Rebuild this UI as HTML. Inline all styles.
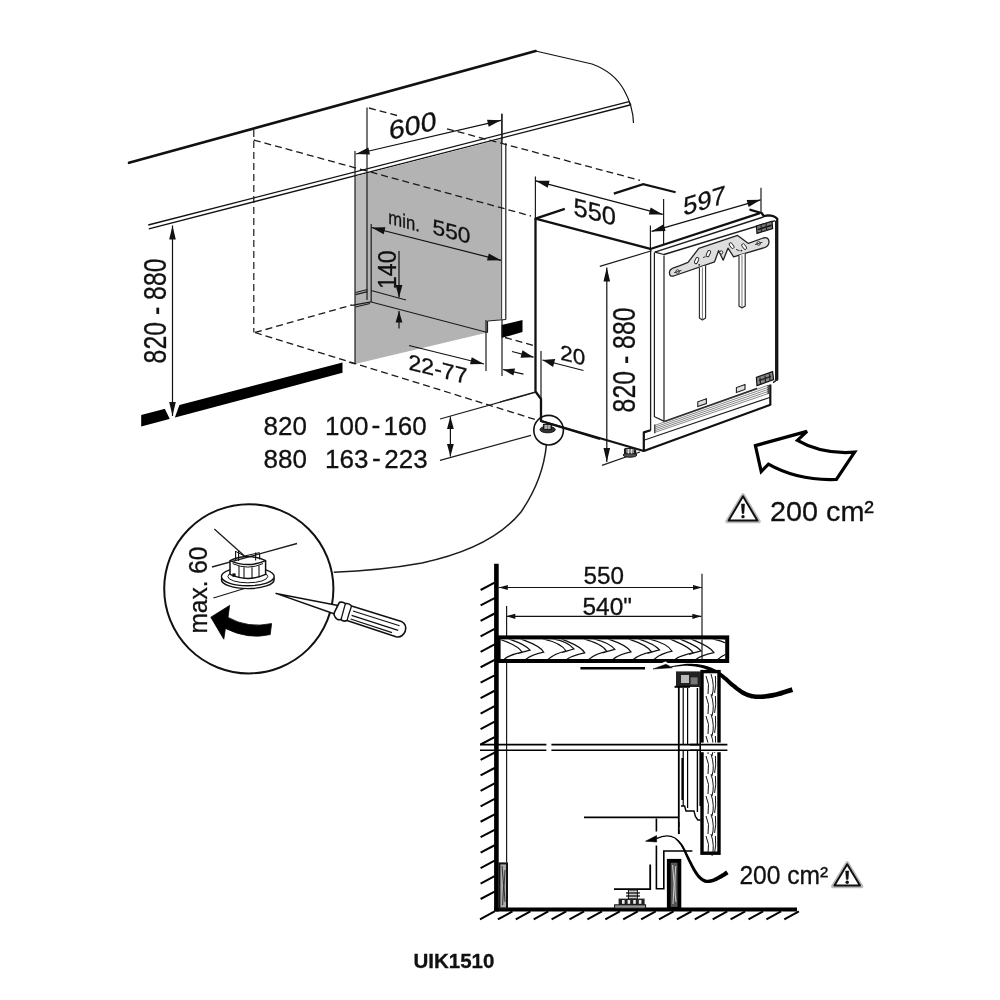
<!DOCTYPE html>
<html><head><meta charset="utf-8"><title>UIK1510</title>
<style>
html,body{margin:0;padding:0;background:#fff;}
body{width:1000px;height:1000px;overflow:hidden;font-family:"Liberation Sans",sans-serif;}
svg{display:block;will-change:transform;}
svg text{font-family:"Liberation Sans",sans-serif;stroke:#111;stroke-width:0.3px;}
</style></head><body>
<svg width="1000" height="1000" viewBox="0 0 1000 1000">
<rect width="1000" height="1000" fill="#fff"/>
<line x1="129" y1="162.8" x2="535.6" y2="51" stroke="#111" stroke-width="2.6" stroke-linecap="round"/>
<path d="M535.6,51 Q562,57 592,64 Q614,72 624,90 Q633,106 633.5,123" stroke="#111" stroke-width="1.2" fill="none" stroke-linejoin="miter" stroke-linecap="butt"/>
<line x1="148.2" y1="225" x2="629" y2="101.6" stroke="#111" stroke-width="1.3" stroke-linecap="butt"/>
<line x1="148.8" y1="228.8" x2="630" y2="105" stroke="#111" stroke-width="1.3" stroke-linecap="butt"/>
<line x1="629" y1="101.6" x2="631" y2="105" stroke="#111" stroke-width="1.2" stroke-linecap="butt"/>
<polygon points="355,176.5 501.5,139 501.5,319.5 487.5,320.8 487.5,332.5 355,364" fill="#b3b3b3" stroke="none" stroke-width="0"/>
<polygon points="355,176.5 367,173.5 367,289.5 355,292.5" fill="#bcbcbc" stroke="none" stroke-width="0"/>
<line x1="355" y1="151" x2="355" y2="364" stroke="#1c1c1c" stroke-width="1.2" stroke-linecap="butt"/>
<line x1="367" y1="107.5" x2="367" y2="300" stroke="#1c1c1c" stroke-width="1.2" stroke-linecap="butt"/>
<line x1="371.2" y1="224" x2="371.2" y2="302" stroke="#1c1c1c" stroke-width="1.2" stroke-linecap="butt"/>
<line x1="501.8" y1="113.8" x2="501.8" y2="319.5" stroke="#1c1c1c" stroke-width="1.2" stroke-linecap="butt"/>
<polygon points="502.3,140 505.6,139.2 505.6,319.3 502.3,319.6" fill="#fff" stroke="none" stroke-width="0"/>
<line x1="505.8" y1="143" x2="505.8" y2="319.5" stroke="#1c1c1c" stroke-width="1.2" stroke-linecap="butt"/>
<line x1="505.8" y1="319.5" x2="487.5" y2="321" stroke="#1c1c1c" stroke-width="1.2" stroke-linecap="butt"/>
<line x1="487.5" y1="321" x2="487.5" y2="332.5" stroke="#1c1c1c" stroke-width="1.2" stroke-linecap="butt"/>
<line x1="371.2" y1="302" x2="487.5" y2="332.5" stroke="#1c1c1c" stroke-width="1.2" stroke-linecap="butt"/>
<line x1="371.2" y1="290.5" x2="406" y2="300" stroke="#1c1c1c" stroke-width="1.2" stroke-linecap="butt"/>
<line x1="355.5" y1="292.5" x2="367.5" y2="289.5" stroke="#1c1c1c" stroke-width="1.2" stroke-linecap="butt"/>
<line x1="355.5" y1="294.6" x2="367.5" y2="291.6" stroke="#1c1c1c" stroke-width="1.2" stroke-linecap="butt"/>
<line x1="352" y1="305.3" x2="371" y2="301.8" stroke="#1c1c1c" stroke-width="1.2" stroke-linecap="butt"/>
<line x1="355.5" y1="307" x2="370" y2="303.5" stroke="#1c1c1c" stroke-width="1.2" stroke-linecap="butt"/>
<line x1="355" y1="364" x2="349" y2="362.2" stroke="#1c1c1c" stroke-width="1.2" stroke-linecap="butt"/>
<line x1="253.8" y1="130" x2="253.8" y2="332.5" stroke="#1a1a1a" stroke-width="1.2" stroke-linecap="butt" stroke-dasharray="7 4"/>
<line x1="253.8" y1="140" x2="531" y2="216" stroke="#1a1a1a" stroke-width="1.3" stroke-linecap="butt" stroke-dasharray="7 4"/>
<line x1="369" y1="108" x2="397" y2="115.5" stroke="#1a1a1a" stroke-width="1.3" stroke-linecap="butt" stroke-dasharray="7 4"/>
<line x1="447" y1="128.8" x2="640" y2="180.3" stroke="#1a1a1a" stroke-width="1.3" stroke-linecap="butt" stroke-dasharray="7 4"/>
<line x1="255" y1="332.5" x2="352" y2="305" stroke="#1a1a1a" stroke-width="1.3" stroke-linecap="butt" stroke-dasharray="7 4"/>
<line x1="255" y1="332.5" x2="537" y2="420" stroke="#1a1a1a" stroke-width="1.3" stroke-linecap="butt" stroke-dasharray="7 4"/>
<line x1="505" y1="337.5" x2="535" y2="346" stroke="#1a1a1a" stroke-width="1.3" stroke-linecap="butt" stroke-dasharray="7 4"/>
<polygon points="141.2,415 342.5,362.5 342.5,372.8 141.2,426.5" fill="#000" stroke="none" stroke-width="0"/>
<polygon points="163.5,406 180.5,402 174.5,418.5 170,419.5" fill="#fff" stroke="none" stroke-width="0"/>
<polygon points="501.5,325 522.5,320 522.5,332 501.5,338" fill="#000" stroke="none" stroke-width="0"/>
<line x1="356" y1="154" x2="501" y2="120.3" stroke="#111" stroke-width="1.2" stroke-linecap="butt"/>
<polygon points="501,120.3 488.67,126.86 487.04,119.85" fill="#111" stroke="none" stroke-width="0"/>
<polygon points="356,154 368.33,147.44 369.96,154.45" fill="#111" stroke="none" stroke-width="0"/>
<line x1="502" y1="113.8" x2="502" y2="143.8" stroke="#1c1c1c" stroke-width="1.2" stroke-linecap="butt"/>
<text transform="translate(389,140) skewY(-12.5) scale(1.0743,1)" font-size="26.5" text-anchor="start" font-weight="normal" fill="#111">600</text>
<line x1="371.5" y1="227.5" x2="501" y2="260.3" stroke="#111" stroke-width="1.2" stroke-linecap="butt"/>
<polygon points="501,260.3 487.03,260.48 488.8,253.5" fill="#111" stroke="none" stroke-width="0"/>
<polygon points="371.5,227.5 385.47,227.32 383.7,234.3" fill="#111" stroke="none" stroke-width="0"/>
<text transform="translate(388.3,223.6) skewY(15) scale(0.8551,1)" font-size="19.5" text-anchor="start" font-weight="normal" fill="#111">min.</text>
<text transform="translate(432.5,233.8) skewY(15) scale(1.0593,1)" font-size="21.5" text-anchor="start" font-weight="normal" fill="#111">550</text>
<text transform="translate(395.8,289) rotate(-90) scale(0.8774,1)" font-size="26.3" text-anchor="start" font-weight="normal" fill="#111">140</text>
<line x1="399" y1="251" x2="399" y2="297.6" stroke="#111" stroke-width="1.2" stroke-linecap="butt"/>
<polygon points="399,297.6 395.6,284.9 402.4,284.9" fill="#111" stroke="none" stroke-width="0"/>
<line x1="399" y1="328.6" x2="399" y2="311" stroke="#111" stroke-width="1.2" stroke-linecap="butt"/>
<polygon points="399,311 402.4,322.5 395.6,322.5" fill="#111" stroke="none" stroke-width="0"/>
<line x1="409" y1="345.5" x2="484" y2="364" stroke="#111" stroke-width="1.2" stroke-linecap="butt"/>
<polygon points="484,364 470.03,364.26 471.76,357.27" fill="#111" stroke="none" stroke-width="0"/>
<line x1="486" y1="320" x2="486" y2="371" stroke="#1c1c1c" stroke-width="1.2" stroke-linecap="butt"/>
<line x1="502" y1="320" x2="502" y2="376" stroke="#1c1c1c" stroke-width="1.2" stroke-linecap="butt"/>
<line x1="523.5" y1="374.2" x2="503" y2="369.5" stroke="#111" stroke-width="1.2" stroke-linecap="butt"/>
<polygon points="503,369.5 515.01,368.56 513.4,375.58" fill="#111" stroke="none" stroke-width="0"/>
<text transform="translate(408.5,369.4) skewY(14) scale(1.0253,1)" font-size="22.5" text-anchor="start" font-weight="normal" fill="#111">22-77</text>
<line x1="512" y1="351.5" x2="533.6" y2="357.2" stroke="#111" stroke-width="1.2" stroke-linecap="butt"/>
<polygon points="533.6,357.2 520.54,357.68 522.48,350.34" fill="#111" stroke="none" stroke-width="0"/>
<line x1="583.5" y1="370.5" x2="542.5" y2="360" stroke="#111" stroke-width="1.2" stroke-linecap="butt"/>
<polygon points="542.5,360 555.17,358.91 553.08,367.05" fill="#111" stroke="none" stroke-width="0"/>
<text transform="translate(560.3,359.4) skewY(14) scale(1.0454,1)" font-size="21.5" text-anchor="start" font-weight="normal" fill="#111">20</text>
<line x1="172.5" y1="225.5" x2="172.5" y2="416" stroke="#111" stroke-width="1.2" stroke-linecap="butt"/>
<polygon points="172.5,416 169.2,402.0 175.8,402.0" fill="#111" stroke="none" stroke-width="0"/>
<polygon points="172.5,225.5 175.8,239.5 169.2,239.5" fill="#111" stroke="none" stroke-width="0"/>
<text transform="translate(166,363.4) rotate(-90) scale(0.8016,1)" font-size="31" text-anchor="start" font-weight="normal" fill="#111">820 - 880</text>
<text transform="translate(263.6,435.4) scale(0.9816,1)" font-size="26.5" text-anchor="start" font-weight="normal" fill="#111">820</text>
<text transform="translate(263.6,467.6) scale(0.9816,1)" font-size="26.5" text-anchor="start" font-weight="normal" fill="#111">880</text>
<text transform="translate(325,435.4) scale(0.9816,1)" font-size="26.5" text-anchor="start" font-weight="normal" fill="#111">100</text>
<text transform="translate(371.6,434.4)" font-size="26.5" text-anchor="start" font-weight="normal" fill="#111">-</text>
<text transform="translate(383.4,435.4) scale(0.9816,1)" font-size="26.5" text-anchor="start" font-weight="normal" fill="#111">160</text>
<text transform="translate(325,467.6) scale(0.9816,1)" font-size="26.5" text-anchor="start" font-weight="normal" fill="#111">163</text>
<text transform="translate(372,466.6)" font-size="26.5" text-anchor="start" font-weight="normal" fill="#111">-</text>
<text transform="translate(384.2,467.6) scale(0.9816,1)" font-size="26.5" text-anchor="start" font-weight="normal" fill="#111">223</text>
<line x1="440" y1="419" x2="535" y2="392.5" stroke="#1c1c1c" stroke-width="1.2" stroke-linecap="butt"/>
<line x1="440" y1="460.4" x2="531" y2="435.4" stroke="#1c1c1c" stroke-width="1.2" stroke-linecap="butt"/>
<line x1="450.4" y1="416.6" x2="450.4" y2="456.6" stroke="#111" stroke-width="1.2" stroke-linecap="butt"/>
<polygon points="450.4,456.6 447.0,444.1 453.8,444.1" fill="#111" stroke="none" stroke-width="0"/>
<polygon points="450.4,416.6 453.8,429.1 447.0,429.1" fill="#111" stroke="none" stroke-width="0"/>
<path d="M613.8,193.6 L643.2,184.2 L675.6,192.2" stroke="#111" stroke-width="2.2" fill="none" stroke-linejoin="miter" stroke-linecap="butt"/>
<line x1="535.4" y1="176.6" x2="535.4" y2="218.6" stroke="#1c1c1c" stroke-width="1.2" stroke-linecap="butt"/>
<line x1="663.6" y1="199" x2="663.6" y2="245" stroke="#1c1c1c" stroke-width="1.2" stroke-linecap="butt"/>
<line x1="650.4" y1="225.6" x2="650.4" y2="249" stroke="#1c1c1c" stroke-width="1.2" stroke-linecap="butt"/>
<line x1="761" y1="187.8" x2="761" y2="213" stroke="#1c1c1c" stroke-width="1.2" stroke-linecap="butt"/>
<line x1="599.8" y1="266.4" x2="651.6" y2="250.8" stroke="#1c1c1c" stroke-width="1.2" stroke-linecap="butt"/>
<line x1="602" y1="465.4" x2="640" y2="452" stroke="#1c1c1c" stroke-width="1.2" stroke-linecap="butt"/>
<line x1="535.6" y1="180.8" x2="662.8" y2="214.4" stroke="#111" stroke-width="1.2" stroke-linecap="butt"/>
<polygon points="662.8,214.4 648.83,214.43 650.67,207.47" fill="#111" stroke="none" stroke-width="0"/>
<polygon points="535.6,180.8 549.57,180.77 547.73,187.73" fill="#111" stroke="none" stroke-width="0"/>
<line x1="651.6" y1="231.4" x2="760.6" y2="199.8" stroke="#111" stroke-width="1.2" stroke-linecap="butt"/>
<polygon points="760.6,199.8 748.64,207.02 746.63,200.1" fill="#111" stroke="none" stroke-width="0"/>
<polygon points="651.6,231.4 663.56,224.18 665.57,231.1" fill="#111" stroke="none" stroke-width="0"/>
<text transform="translate(573.5,214.9) skewY(14.5) scale(1.0189,1)" font-size="25" text-anchor="start" font-weight="normal" fill="#111">550</text>
<text transform="translate(683.3,215.8) skewY(-17) scale(0.9989,1)" font-size="25.5" text-anchor="start" font-weight="normal" fill="#111">597</text>
<line x1="606.8" y1="267.6" x2="606.8" y2="462" stroke="#111" stroke-width="1.2" stroke-linecap="butt"/>
<polygon points="606.8,462 603.5,448.0 610.1,448.0" fill="#111" stroke="none" stroke-width="0"/>
<polygon points="606.8,267.6 610.1,281.6 603.5,281.6" fill="#111" stroke="none" stroke-width="0"/>
<text transform="translate(634.9,412.4) rotate(-90) scale(0.8016,1)" font-size="31" text-anchor="start" font-weight="normal" fill="#111">820 - 880</text>
<path d="M535.5,218.6 L535.5,391.5 L541,399 L541,421 L643.8,451" stroke="#111" stroke-width="2.3" fill="none" stroke-linejoin="round" stroke-linecap="butt"/>
<line x1="541" y1="351" x2="541" y2="399" stroke="#1c1c1c" stroke-width="1.2" stroke-linecap="butt"/>
<path d="M564.8,208.8 L535.5,218.6 L650.4,248.8" stroke="#111" stroke-width="2.3" fill="none" stroke-linejoin="round" stroke-linecap="butt"/>
<line x1="650.6" y1="248.8" x2="650.6" y2="430.5" stroke="#1c1c1c" stroke-width="1.3" stroke-linecap="butt"/>
<line x1="654.4" y1="252.5" x2="654.4" y2="417" stroke="#1c1c1c" stroke-width="1.2" stroke-linecap="butt"/>
<line x1="664" y1="255.4" x2="664" y2="421.4" stroke="#1c1c1c" stroke-width="1.2" stroke-linecap="butt"/>
<line x1="650.4" y1="249" x2="759.2" y2="213.4" stroke="#111" stroke-width="2.3" stroke-linecap="round"/>
<path d="M750.4,209.8 L761.6,213 L763.8,216.2 L768,215.4 Q774.4,215.4 777.2,218.8 L777.2,379.5" stroke="#111" stroke-width="2.3" fill="none" stroke-linejoin="round" stroke-linecap="round"/>
<line x1="654.8" y1="252.2" x2="763.4" y2="217" stroke="#1c1c1c" stroke-width="1.4" stroke-linecap="butt"/>
<line x1="664" y1="254.5" x2="775.4" y2="220.6" stroke="#1c1c1c" stroke-width="1.4" stroke-linecap="butt"/>
<line x1="654.8" y1="252.2" x2="664" y2="254.5" stroke="#1c1c1c" stroke-width="1.2" stroke-linecap="butt"/>
<line x1="775.6" y1="221" x2="775.6" y2="380" stroke="#1c1c1c" stroke-width="1.2" stroke-linecap="butt"/>
<line x1="654.6" y1="416.8" x2="664.4" y2="421.4" stroke="#1c1c1c" stroke-width="1.2" stroke-linecap="butt"/>
<line x1="664.4" y1="421.4" x2="757" y2="388.6" stroke="#1c1c1c" stroke-width="1.6" stroke-linecap="butt"/>
<line x1="773" y1="382.6" x2="777.6" y2="379.4" stroke="#1c1c1c" stroke-width="1.4" stroke-linecap="butt"/>
<path d="M650.6,430.2 L643.8,432.4 L643.8,451 L770.3,404.8 L770.3,384.5" stroke="#111" stroke-width="2.2" fill="none" stroke-linejoin="round" stroke-linecap="butt"/>
<line x1="643.8" y1="440.2" x2="770.3" y2="397.2" stroke="#1c1c1c" stroke-width="1.2" stroke-linecap="butt"/>
<line x1="654.8" y1="424.6" x2="654.8" y2="433.2" stroke="#1c1c1c" stroke-width="1.2" stroke-linecap="butt"/>
<line x1="654.8" y1="425.4" x2="768.2" y2="385.2" stroke="#555" stroke-width="0.7" stroke-linecap="butt"/>
<line x1="654.8" y1="427.15" x2="768.2" y2="387.3" stroke="#555" stroke-width="0.7" stroke-linecap="butt"/>
<line x1="654.8" y1="428.9" x2="768.2" y2="389.4" stroke="#555" stroke-width="0.7" stroke-linecap="butt"/>
<line x1="654.8" y1="430.65" x2="768.2" y2="391.5" stroke="#555" stroke-width="0.7" stroke-linecap="butt"/>
<line x1="654.8" y1="432.4" x2="768.2" y2="393.59999999999997" stroke="#555" stroke-width="0.7" stroke-linecap="butt"/>
<line x1="768.2" y1="385" x2="768.2" y2="394" stroke="#1c1c1c" stroke-width="1.2" stroke-linecap="butt"/>
<path d="M697.8,406.6 L697.8,401.8 L706.4,398.8 L706.4,403.6 Z" stroke="#1c1c1c" stroke-width="1.1" fill="#ddd" stroke-linejoin="miter" stroke-linecap="butt"/>
<path d="M736.4,392.4 L736.4,387.6 L745,384.6 L745,389.4 Z" stroke="#1c1c1c" stroke-width="1.1" fill="#ddd" stroke-linejoin="miter" stroke-linecap="butt"/>
<path d="M756.4,377.4 L772.6,371.6 L773.6,379.6 L757,385.6 Z" stroke="#111" stroke-width="1.2" fill="#888" stroke-linejoin="miter" stroke-linecap="butt"/>
<line x1="759" y1="380.6" x2="771" y2="376.4" stroke="#222" stroke-width="1.4" stroke-linecap="butt"/>
<line x1="760" y1="377.5" x2="760.5" y2="384" stroke="#222" stroke-width="1.2" stroke-linecap="butt"/>
<line x1="765" y1="375.5" x2="765.5" y2="382" stroke="#222" stroke-width="1.2" stroke-linecap="butt"/>
<line x1="769.5" y1="373.8" x2="770" y2="380.5" stroke="#222" stroke-width="1.2" stroke-linecap="butt"/>
<path d="M756.4,226 L772,221.2 L772.6,228.6 L757,233.4 Z" stroke="#111" stroke-width="1.2" fill="#777" stroke-linejoin="miter" stroke-linecap="butt"/>
<line x1="758" y1="229.6" x2="771.6" y2="225.2" stroke="#111" stroke-width="1.5" stroke-linecap="butt"/>
<line x1="761" y1="225" x2="761.6" y2="232" stroke="#222" stroke-width="1.2" stroke-linecap="butt"/>
<line x1="766" y1="223.4" x2="766.6" y2="230.6" stroke="#222" stroke-width="1.2" stroke-linecap="butt"/>
<path d="M624.6,448.6 L624.6,454 M635.6,449.8 L635.6,455" stroke="#1c1c1c" stroke-width="1.2" fill="none" stroke-linejoin="miter" stroke-linecap="butt"/>
<ellipse cx="630" cy="455" rx="6.8" ry="2.2" fill="#555" stroke="#111" stroke-width="1"/>
<rect x="625.6" y="448.4" width="9" height="5.4" fill="#888" stroke="#111" stroke-width="1"/>
<line x1="628.4" y1="449" x2="628.4" y2="453.6" stroke="#eee" stroke-width="0.9" stroke-linecap="butt"/>
<line x1="631.6" y1="449" x2="631.6" y2="453.6" stroke="#eee" stroke-width="0.9" stroke-linecap="butt"/>
<path d="M673.6,267.8 L680,265.6 L688,262.4 L698.8,248.4 L737.6,235.4 L748.4,243.4 L763.2,238 Q768.4,236.6 769,241.4 Q769,246 764.4,247.6 L733.6,256.8 L728,248.2 L723.2,260.2 L718.6,250.6 L714.6,261.8 L673.6,276 Q669.6,277 669.4,272.6 Q669.6,269.2 673.6,267.8 Z" stroke="#222" stroke-width="1.3" fill="#dedede" stroke-linejoin="round" stroke-linecap="butt"/>
<path d="M699.4,267.4 L699.4,318 L702.4,320 L705.6,318 L705.6,265.4" stroke="#222" stroke-width="1.1" fill="#fff" stroke-linejoin="round" stroke-linecap="butt"/>
<line x1="702.4" y1="267.4" x2="702.4" y2="319.6" stroke="#555" stroke-width="0.8" stroke-linecap="butt"/>
<path d="M739,255.2 L739,306 L742,308 L745.2,306 L745.2,253.2" stroke="#222" stroke-width="1.1" fill="#fff" stroke-linejoin="round" stroke-linecap="butt"/>
<line x1="742" y1="255.2" x2="742" y2="307.6" stroke="#555" stroke-width="0.8" stroke-linecap="butt"/>
<rect x="695.1" y="257.40000000000003" width="3.0" height="6.4" rx="1.5" fill="#fff" stroke="#222" stroke-width="0.9" transform="rotate(25 696.6 260.6)"/>
<rect x="706.9" y="250.4" width="3.0" height="6.4" rx="1.5" fill="#fff" stroke="#222" stroke-width="0.9" transform="rotate(25 708.4 253.6)"/>
<rect x="730.1" y="242.4" width="3.0" height="6.4" rx="1.5" fill="#fff" stroke="#222" stroke-width="0.9" transform="rotate(-35 731.6 245.6)"/>
<rect x="742.7" y="243.4" width="3.0" height="6.4" rx="1.5" fill="#fff" stroke="#222" stroke-width="0.9" transform="rotate(-35 744.2 246.6)"/>
<circle cx="677.6" cy="271.6" r="1.8" fill="#fff" stroke="#222" stroke-width="0.9"/>
<circle cx="758.6" cy="243.4" r="1.8" fill="#fff" stroke="#222" stroke-width="0.9"/>
<line x1="674" y1="272.8" x2="681.4" y2="270.4" stroke="#222" stroke-width="0.9" stroke-linecap="butt"/>
<line x1="755" y1="244.6" x2="762.4" y2="242.2" stroke="#222" stroke-width="0.9" stroke-linecap="butt"/>
<line x1="703" y1="257.6" x2="705.6" y2="256.6" stroke="#222" stroke-width="0.9" stroke-linecap="butt"/>
<line x1="736" y1="249.4" x2="739.6" y2="250.8" stroke="#222" stroke-width="0.9" stroke-linecap="butt"/>
<circle cx="721.2" cy="252.4" r="1.6" fill="#eee" stroke="#222" stroke-width="0.9"/>
<circle cx="699.2" cy="264.8" r="0.9" fill="#222"/>
<circle cx="741.4" cy="250.6" r="0.9" fill="#222"/>
<line x1="500" y1="402" x2="535" y2="392" stroke="#1c1c1c" stroke-width="1.2" stroke-linecap="butt"/>
<circle cx="548.6" cy="430.2" r="14.8" fill="none" stroke="#111" stroke-width="1.6"/>
<ellipse cx="547.6" cy="429.6" rx="7.6" ry="3.2" fill="#333" stroke="#111" stroke-width="1"/>
<rect x="543.4" y="424.4" width="8" height="5" fill="#777" stroke="#111" stroke-width="1"/>
<line x1="546" y1="425" x2="546" y2="429" stroke="#eee" stroke-width="0.9" stroke-linecap="butt"/>
<line x1="549" y1="425" x2="549" y2="429" stroke="#eee" stroke-width="0.9" stroke-linecap="butt"/>
<path d="M546.4,445 Q543,480 521,512 Q492,548 422,563 Q380,570.6 333.8,572.2" stroke="#1c1c1c" stroke-width="1.5" fill="none" stroke-linejoin="miter" stroke-linecap="butt"/>
<path d="M541,421 L600,439" stroke="#111" stroke-width="2.3" fill="none" stroke-linejoin="miter" stroke-linecap="butt"/>
<path d="M755.4,445.6 L807,431.4 L797.4,440.4 Q822,454.6 854.6,452.2 L836.4,479.4 Q798,481 768.4,464.2 L761.2,471.6 Z" stroke="#000" stroke-width="3.2" fill="#fff" stroke-linejoin="miter" stroke-linecap="butt"/>
<path d="M743,495 L759,521.4 L727,521.4 Z" stroke="#bbb" stroke-width="3.6" fill="#fff" stroke-linejoin="round" stroke-linecap="butt"/>
<path d="M743,496.2 L757.4,520.6 L728.6,520.6 Z" stroke="#111" stroke-width="2" fill="#fff" stroke-linejoin="round" stroke-linecap="butt"/>
<path d="M741.4,503.976 L744.6,503.976 L743.9,513.48 L742.1,513.48 Z" stroke="#111" stroke-width="0.5" fill="#111" stroke-linejoin="miter" stroke-linecap="butt"/>
<circle cx="743" cy="516.648" r="1.7" fill="#111"/>
<text transform="translate(770,521) scale(1.0102,1)" font-size="28.5" text-anchor="start" font-weight="normal" fill="#111">200 cm&#178;</text>
<circle cx="248.8" cy="588.8" r="84.6" fill="#fff" stroke="#111" stroke-width="2"/>
<text transform="translate(206.5,633.5) rotate(-90) scale(0.9783,1)" font-size="25" text-anchor="start" font-weight="normal" fill="#111">max. 60</text>
<line x1="214.3" y1="529" x2="244.5" y2="556" stroke="#1c1c1c" stroke-width="1.3" stroke-linecap="butt"/>
<line x1="212" y1="567" x2="297" y2="543.5" stroke="#1c1c1c" stroke-width="1.3" stroke-linecap="butt"/>
<line x1="213.4" y1="598" x2="244.5" y2="588.5" stroke="#1c1c1c" stroke-width="1.3" stroke-linecap="butt"/>
<ellipse cx="247.8" cy="579.4" rx="26.4" ry="9.2" fill="#fff" stroke="#111" stroke-width="1.4"/>
<ellipse cx="247.8" cy="576.6" rx="26.4" ry="9.2" fill="#fff" stroke="#111" stroke-width="1.4"/>
<ellipse cx="247.8" cy="576.4" rx="20" ry="6.4" fill="#fff" stroke="#111" stroke-width="1"/>
<path d="M230,560.6 L230,574.4 Q247.8,582.4 265.6,574.4 L265.6,560.6 Q247.8,568.6 230,560.6 Z" stroke="#111" stroke-width="1.5" fill="#fff" stroke-linejoin="round" stroke-linecap="butt"/>
<path d="M230,560.6 Q247.8,552.6 265.6,560.6" stroke="#111" stroke-width="1.5" fill="none" stroke-linejoin="miter" stroke-linecap="butt"/>
<path d="M232.6,563.6 Q247.8,570.6 263,563.6" stroke="#111" stroke-width="1" fill="none" stroke-linejoin="miter" stroke-linecap="butt"/>
<line x1="239" y1="566" x2="239" y2="578" stroke="#111" stroke-width="1.1" stroke-linecap="butt"/>
<line x1="244" y1="567.2" x2="244" y2="579" stroke="#111" stroke-width="1.1" stroke-linecap="butt"/>
<line x1="252" y1="567.2" x2="252" y2="579" stroke="#111" stroke-width="1.1" stroke-linecap="butt"/>
<line x1="259" y1="565.6" x2="259" y2="577.6" stroke="#111" stroke-width="1.1" stroke-linecap="butt"/>
<path d="M235.6,551 L235.6,560.4 M238.6,550.6 L238.6,561 M255.6,552.6 L255.6,560.6 M259.6,553.4 L259.6,559.6" stroke="#111" stroke-width="1.1" fill="none" stroke-linejoin="miter" stroke-linecap="butt"/>
<path d="M235.6,551.4 L244.5,556 L259.6,552.6" stroke="#111" stroke-width="1" fill="none" stroke-linejoin="miter" stroke-linecap="butt"/>
<rect x="232.4" y="573.4" width="3.2" height="3.4" fill="#111"/>
<path d="M271.6,623.6 Q248,628.6 228,617.4 L229.6,605.4 L210.8,617.2 L223.8,639.2 L225.4,628.4 Q248,639.8 270.2,634.6 Z" stroke="#000" stroke-width="0.8" fill="#000" stroke-linejoin="round" stroke-linecap="butt"/>
<path d="M276,593.4 L338,605.4 L334.6,614 Z" stroke="#111" stroke-width="1.5" fill="#fff" stroke-linejoin="round" stroke-linecap="butt"/>
<path d="M339.4,602.4 Q343,601.6 345.4,603.6 Q349,602.8 351.6,606 L401.4,621.4 Q407.4,624.8 405.2,631.4 Q402.2,638 396,636.8 L347,620.6 Q343.4,622 341,619.6 Q337,620.4 335,616.8 Q333.4,615 334.4,612.4 Z" stroke="#111" stroke-width="1.6" fill="#fff" stroke-linejoin="round" stroke-linecap="butt"/>
<path d="M345.4,603.6 Q343.4,611 341,619.6" stroke="#111" stroke-width="1.3" fill="none" stroke-linejoin="miter" stroke-linecap="butt"/>
<path d="M351.6,606 Q349,613 347,620.6" stroke="#111" stroke-width="1.3" fill="none" stroke-linejoin="miter" stroke-linecap="butt"/>
<line x1="353" y1="611" x2="399.6" y2="625.8" stroke="#111" stroke-width="1.2" stroke-linecap="butt"/>
<line x1="351.6" y1="615.4" x2="398.2" y2="630.4" stroke="#111" stroke-width="1.2" stroke-linecap="butt"/>
<line x1="350.6" y1="619" x2="392" y2="632.6" stroke="#111" stroke-width="1.2" stroke-linecap="butt"/>
<line x1="496.4" y1="563.8" x2="496.4" y2="911.4" stroke="#000" stroke-width="4.6" stroke-linecap="butt"/>
<line x1="480.6" y1="590.0" x2="494.6" y2="582.6" stroke="#000" stroke-width="2" stroke-linecap="butt"/>
<line x1="480.6" y1="605.45" x2="494.6" y2="598.0500000000001" stroke="#000" stroke-width="2" stroke-linecap="butt"/>
<line x1="480.6" y1="620.9000000000001" x2="494.6" y2="613.5000000000001" stroke="#000" stroke-width="2" stroke-linecap="butt"/>
<line x1="480.6" y1="636.3500000000001" x2="494.6" y2="628.9500000000002" stroke="#000" stroke-width="2" stroke-linecap="butt"/>
<line x1="480.6" y1="651.8000000000002" x2="494.6" y2="644.4000000000002" stroke="#000" stroke-width="2" stroke-linecap="butt"/>
<line x1="480.6" y1="667.2500000000002" x2="494.6" y2="659.8500000000003" stroke="#000" stroke-width="2" stroke-linecap="butt"/>
<line x1="480.6" y1="682.7000000000003" x2="494.6" y2="675.3000000000003" stroke="#000" stroke-width="2" stroke-linecap="butt"/>
<line x1="480.6" y1="698.1500000000003" x2="494.6" y2="690.7500000000003" stroke="#000" stroke-width="2" stroke-linecap="butt"/>
<line x1="480.6" y1="713.6000000000004" x2="494.6" y2="706.2000000000004" stroke="#000" stroke-width="2" stroke-linecap="butt"/>
<line x1="480.6" y1="729.0500000000004" x2="494.6" y2="721.6500000000004" stroke="#000" stroke-width="2" stroke-linecap="butt"/>
<line x1="480.6" y1="744.5000000000005" x2="494.6" y2="737.1000000000005" stroke="#000" stroke-width="2" stroke-linecap="butt"/>
<line x1="480.6" y1="759.9500000000005" x2="494.6" y2="752.5500000000005" stroke="#000" stroke-width="2" stroke-linecap="butt"/>
<line x1="480.6" y1="775.4000000000005" x2="494.6" y2="768.0000000000006" stroke="#000" stroke-width="2" stroke-linecap="butt"/>
<line x1="480.6" y1="790.8500000000006" x2="494.6" y2="783.4500000000006" stroke="#000" stroke-width="2" stroke-linecap="butt"/>
<line x1="480.6" y1="806.3000000000006" x2="494.6" y2="798.9000000000007" stroke="#000" stroke-width="2" stroke-linecap="butt"/>
<line x1="480.6" y1="821.7500000000007" x2="494.6" y2="814.3500000000007" stroke="#000" stroke-width="2" stroke-linecap="butt"/>
<line x1="480.6" y1="837.2000000000007" x2="494.6" y2="829.8000000000008" stroke="#000" stroke-width="2" stroke-linecap="butt"/>
<line x1="480.6" y1="852.6500000000008" x2="494.6" y2="845.2500000000008" stroke="#000" stroke-width="2" stroke-linecap="butt"/>
<line x1="480.6" y1="868.1000000000008" x2="494.6" y2="860.7000000000008" stroke="#000" stroke-width="2" stroke-linecap="butt"/>
<line x1="480.6" y1="883.5500000000009" x2="494.6" y2="876.1500000000009" stroke="#000" stroke-width="2" stroke-linecap="butt"/>
<line x1="480.6" y1="899.0000000000009" x2="494.6" y2="891.6000000000009" stroke="#000" stroke-width="2" stroke-linecap="butt"/>
<line x1="494.2" y1="909.6" x2="797" y2="909.6" stroke="#000" stroke-width="4" stroke-linecap="butt"/>
<line x1="480" y1="919.4" x2="494.6" y2="911.4" stroke="#000" stroke-width="2" stroke-linecap="butt"/>
<line x1="497.9" y1="919.4" x2="512.5" y2="911.4" stroke="#000" stroke-width="2" stroke-linecap="butt"/>
<line x1="515.8" y1="919.4" x2="530.4" y2="911.4" stroke="#000" stroke-width="2" stroke-linecap="butt"/>
<line x1="533.6999999999999" y1="919.4" x2="548.3" y2="911.4" stroke="#000" stroke-width="2" stroke-linecap="butt"/>
<line x1="551.5999999999999" y1="919.4" x2="566.1999999999999" y2="911.4" stroke="#000" stroke-width="2" stroke-linecap="butt"/>
<line x1="569.4999999999999" y1="919.4" x2="584.0999999999999" y2="911.4" stroke="#000" stroke-width="2" stroke-linecap="butt"/>
<line x1="587.3999999999999" y1="919.4" x2="601.9999999999999" y2="911.4" stroke="#000" stroke-width="2" stroke-linecap="butt"/>
<line x1="605.2999999999998" y1="919.4" x2="619.8999999999999" y2="911.4" stroke="#000" stroke-width="2" stroke-linecap="butt"/>
<line x1="623.1999999999998" y1="919.4" x2="637.7999999999998" y2="911.4" stroke="#000" stroke-width="2" stroke-linecap="butt"/>
<line x1="641.0999999999998" y1="919.4" x2="655.6999999999998" y2="911.4" stroke="#000" stroke-width="2" stroke-linecap="butt"/>
<line x1="658.9999999999998" y1="919.4" x2="673.5999999999998" y2="911.4" stroke="#000" stroke-width="2" stroke-linecap="butt"/>
<line x1="676.8999999999997" y1="919.4" x2="691.4999999999998" y2="911.4" stroke="#000" stroke-width="2" stroke-linecap="butt"/>
<line x1="694.7999999999997" y1="919.4" x2="709.3999999999997" y2="911.4" stroke="#000" stroke-width="2" stroke-linecap="butt"/>
<line x1="712.6999999999997" y1="919.4" x2="727.2999999999997" y2="911.4" stroke="#000" stroke-width="2" stroke-linecap="butt"/>
<line x1="730.5999999999997" y1="919.4" x2="745.1999999999997" y2="911.4" stroke="#000" stroke-width="2" stroke-linecap="butt"/>
<line x1="748.4999999999997" y1="919.4" x2="763.0999999999997" y2="911.4" stroke="#000" stroke-width="2" stroke-linecap="butt"/>
<line x1="766.3999999999996" y1="919.4" x2="780.9999999999997" y2="911.4" stroke="#000" stroke-width="2" stroke-linecap="butt"/>
<line x1="784.2999999999996" y1="919.4" x2="798.8999999999996" y2="911.4" stroke="#000" stroke-width="2" stroke-linecap="butt"/>
<line x1="498.8" y1="587.5" x2="702" y2="587.5" stroke="#111" stroke-width="1.2" stroke-linecap="butt"/>
<polygon points="702,587.5 693.0,590.1 693.0,584.9" fill="#111" stroke="none" stroke-width="0"/>
<polygon points="498.8,587.5 507.8,584.9 507.8,590.1" fill="#111" stroke="none" stroke-width="0"/>
<line x1="506.3" y1="616.3" x2="701.4" y2="616.3" stroke="#111" stroke-width="1.2" stroke-linecap="butt"/>
<polygon points="701.4,616.3 692.4,618.9 692.4,613.7" fill="#111" stroke="none" stroke-width="0"/>
<polygon points="506.3,616.3 515.3,613.7 515.3,618.9" fill="#111" stroke="none" stroke-width="0"/>
<line x1="702" y1="573.8" x2="702" y2="659" stroke="#1c1c1c" stroke-width="1.2" stroke-linecap="butt"/>
<line x1="506.6" y1="606" x2="506.6" y2="862.6" stroke="#1c1c1c" stroke-width="1.2" stroke-linecap="butt"/>
<text transform="translate(583.5,583.8) scale(0.9908,1)" font-size="24.5" text-anchor="start" font-weight="normal" fill="#111">550</text>
<text transform="translate(582.5,614.6) scale(0.9985,1)" font-size="24.5" text-anchor="start" font-weight="normal" fill="#111">540"</text>
<rect x="498.6" y="637.4" width="228.6" height="23.6" fill="#fff" stroke="#000" stroke-width="4"/>
<clipPath id="ctc"><rect x="500.6" y="639.4" width="224.6" height="19.6"/></clipPath>
<g clip-path="url(#ctc)">
<path d="M499.0,639 C506.0,641.6 518.0,645.1 522.0,652.1 C515.0,653.6 508.0,656.0 504.0,659.4 M509.0,639 C515.0,641.1 525.0,644.1 530.0,650.1 C525.0,651.6 521.0,652.5 518.0,653.5 M520.7,639 C527.7,641.7 539.7,645.2 543.7,652.2 C536.7,653.7 529.7,656.0 525.7,659.4 M542.9,639 C549.9,640.5 561.9,644.0 565.9,651.0 C558.9,652.5 551.9,656.0 547.9,659.4 M552.9,639 C558.9,640.0 568.9,643.0 573.9,649.0 C568.9,650.5 564.9,651.4 561.9,652.4 M561.7,639 C568.7,642.3 580.7,645.8 584.7,652.8 C577.7,654.3 570.7,656.0 566.7,659.4 M583.8,639 C590.8,640.9 602.8,644.4 606.8,651.4 C599.8,652.9 592.8,656.0 588.8,659.4 M593.8,639 C599.8,640.4 609.8,643.4 614.8,649.4 C609.8,650.9 605.8,651.8 602.8,652.8 M608.0,639 C615.0,641.4 627.0,644.9 631.0,651.9 C624.0,653.4 617.0,656.0 613.0,659.4 M628.5,639 C635.5,641.4 647.5,644.9 651.5,651.9 C644.5,653.4 637.5,656.0 633.5,659.4 M638.5,639 C644.5,640.9 654.5,643.9 659.5,649.9 C654.5,651.4 650.5,652.3 647.5,653.3 M649.0,639 C656.0,640.7 668.0,644.2 672.0,651.2 C665.0,652.7 658.0,656.0 654.0,659.4 M670.1,639 C677.1,642.4 689.1,645.9 693.1,652.9 C686.1,654.4 679.1,656.0 675.1,659.4 M680.1,639 C686.1,641.9 696.1,644.9 701.1,650.9 C696.1,652.4 692.1,653.3 689.1,654.3 M690.9,639 C697.9,642.1 709.9,645.6 713.9,652.6 C706.9,654.1 699.9,656.0 695.9,659.4 M712.7,639 C719.7,640.5 731.7,644.0 735.7,651.0 C728.7,652.5 721.7,656.0 717.7,659.4 M722.7,639 C728.7,640.0 738.7,643.0 743.7,649.0 C738.7,650.5 734.7,651.4 731.7,652.4" stroke="#111" stroke-width="1.25" fill="none" stroke-linejoin="miter" stroke-linecap="butt"/>
</g>
<line x1="702" y1="639.4" x2="702" y2="659" stroke="#1c1c1c" stroke-width="1.2" stroke-linecap="butt"/>
<rect x="499.4" y="863.4" width="7.6" height="45" fill="#aaa" stroke="#111" stroke-width="2"/>
<path d="M502,866 Q505,885 502.6,905 M505,870 Q503,888 505,902" stroke="#222" stroke-width="0.9" fill="none" stroke-linejoin="miter" stroke-linecap="butt"/>
<line x1="480" y1="744.6" x2="546.4" y2="744.6" stroke="#000" stroke-width="1.6" stroke-linecap="butt"/>
<line x1="551.4" y1="744.6" x2="727.4" y2="744.6" stroke="#000" stroke-width="1.6" stroke-linecap="butt"/>
<line x1="480" y1="750.2" x2="546.4" y2="750.2" stroke="#000" stroke-width="1.6" stroke-linecap="butt"/>
<line x1="551.4" y1="750.2" x2="727.4" y2="750.2" stroke="#000" stroke-width="1.6" stroke-linecap="butt"/>
<line x1="580.4" y1="668.2" x2="645" y2="668.2" stroke="#000" stroke-width="2.4" stroke-linecap="butt"/>
<path d="M646,669.4 L665.6,661.6 L675,668 Z" stroke="#fff" stroke-width="0.1" fill="#fff" stroke-linejoin="miter" stroke-linecap="butt"/>
<path d="M653,669 L666,664.2 L672.4,667.8 Z" stroke="#000" stroke-width="0.5" fill="#000" stroke-linejoin="miter" stroke-linecap="butt"/>
<polygon points="671.05,667.2 671.88,667.11 672.92,666.99 674.14,666.84 675.5,666.67 676.97,666.49 678.53,666.31 680.15,666.14 681.79,665.99 683.43,665.87 685.03,665.79 686.56,665.77 688.0,665.8 689.39,665.88 690.8,665.99 692.21,666.13 693.63,666.3 695.04,666.5 696.45,666.73 697.84,666.99 699.22,667.28 700.59,667.6 701.93,667.95 703.25,668.33 704.54,668.73 705.81,669.17 707.07,669.65 708.31,670.15 709.54,670.69 710.76,671.26 711.97,671.86 713.17,672.48 714.35,673.14 715.52,673.82 716.68,674.52 717.83,675.25 718.95,675.99 720.04,676.75 721.1,677.58 722.17,678.45 723.22,679.38 724.28,680.33 725.33,681.31 726.38,682.3 727.43,683.29 728.49,684.28 729.55,685.24 730.63,686.17 731.69,687.04 732.72,687.87 733.73,688.67 734.72,689.48 735.72,690.28 736.71,691.06 737.71,691.83 738.73,692.58 739.75,693.3 740.8,693.99 741.87,694.64 742.96,695.24 744.08,695.8 745.18,696.29 746.26,696.74 747.35,697.15 748.45,697.52 749.55,697.85 750.68,698.14 751.81,698.4 752.98,698.61 754.16,698.79 755.38,698.93 756.63,699.03 757.93,699.1 759.28,699.12 760.68,699.1 762.1,699.04 763.56,698.93 765.03,698.79 766.52,698.62 768.02,698.42 769.52,698.19 771.03,697.95 772.53,697.68 774.01,697.4 775.5,697.1 777.04,696.75 778.68,696.34 780.38,695.88 782.09,695.38 783.8,694.86 785.48,694.34 787.1,693.83 788.62,693.33 790.01,692.88 791.24,692.48 792.28,692.15 793.11,691.89 791.69,687.31 790.83,687.58 789.76,687.93 788.52,688.34 787.13,688.8 785.63,689.29 784.04,689.81 782.4,690.33 780.74,690.84 779.08,691.33 777.47,691.78 775.94,692.17 774.5,692.5 773.1,692.79 771.67,693.07 770.23,693.34 768.79,693.58 767.35,693.81 765.93,694.0 764.53,694.17 763.16,694.31 761.82,694.41 760.52,694.48 759.27,694.51 758.07,694.5 756.91,694.45 755.8,694.38 754.73,694.27 753.69,694.13 752.68,693.96 751.7,693.76 750.73,693.52 749.77,693.25 748.82,692.94 747.86,692.6 746.89,692.22 745.92,691.8 744.97,691.35 744.04,690.85 743.11,690.3 742.17,689.69 741.23,689.05 740.29,688.37 739.33,687.65 738.36,686.91 737.37,686.14 736.37,685.35 735.34,684.55 734.31,683.76 733.29,682.95 732.28,682.11 731.24,681.21 730.2,680.28 729.13,679.32 728.05,678.34 726.94,677.36 725.81,676.39 724.66,675.43 723.48,674.51 722.28,673.63 721.05,672.81 719.82,672.06 718.59,671.33 717.35,670.62 716.09,669.94 714.82,669.29 713.53,668.67 712.22,668.08 710.9,667.52 709.56,666.99 708.21,666.51 706.84,666.07 705.46,665.67 704.06,665.31 702.63,665.0 701.19,664.72 699.74,664.48 698.27,664.28 696.8,664.12 695.33,663.99 693.85,663.89 692.38,663.82 690.91,663.79 689.46,663.78 688.0,663.8 686.5,663.87 684.91,664.01 683.27,664.21 681.61,664.44 679.96,664.71 678.34,664.99 676.79,665.29 675.32,665.57 673.97,665.84 672.78,666.07 671.76,666.26 670.95,666.4" fill="#000" stroke="none" stroke-width="0"/>
<rect x="702" y="671.6" width="17" height="181.6" fill="#fff" stroke="#000" stroke-width="3.4"/>
<path d="M706,676 Q710,684 708,694 M711,674 Q715,686 712,696 M715.4,676 Q716.4,685 714.6,693 M706,696 Q710,704 708,714 M711,694 Q715,706 712,716 M715.4,696 Q716.4,705 714.6,713 M706,716 Q710,724 708,734 M711,714 Q715,726 712,736 M715.4,716 Q716.4,725 714.6,733 M706,736 Q710,744 708,754 M711,734 Q715,746 712,756 M715.4,736 Q716.4,745 714.6,753 M706,756 Q710,764 708,774 M711,754 Q715,766 712,776 M715.4,756 Q716.4,765 714.6,773 M706,776 Q710,784 708,794 M711,774 Q715,786 712,796 M715.4,776 Q716.4,785 714.6,793 M706,796 Q710,804 708,814 M711,794 Q715,806 712,816 M715.4,796 Q716.4,805 714.6,813 M706,816 Q710,824 708,834 M711,814 Q715,826 712,836 M715.4,816 Q716.4,825 714.6,833 M706,836 Q710,844 708,854 M711,834 Q715,846 712,856 M715.4,836 Q716.4,845 714.6,853" stroke="#111" stroke-width="1" fill="none" stroke-linejoin="miter" stroke-linecap="butt"/>
<rect x="699" y="742.6" width="30" height="9.6" fill="#fff"/>
<line x1="690" y1="744.6" x2="727.4" y2="744.6" stroke="#000" stroke-width="1.6" stroke-linecap="butt"/>
<line x1="690" y1="750.2" x2="727.4" y2="750.2" stroke="#000" stroke-width="1.6" stroke-linecap="butt"/>
<line x1="678.8" y1="686" x2="678.8" y2="834" stroke="#000" stroke-width="1.8" stroke-linecap="butt"/>
<line x1="683.2" y1="688" x2="683.2" y2="744" stroke="#000" stroke-width="1.2" stroke-linecap="butt"/>
<line x1="687.6" y1="688" x2="687.6" y2="744" stroke="#000" stroke-width="1.2" stroke-linecap="butt"/>
<line x1="697.4" y1="688" x2="697.4" y2="744" stroke="#000" stroke-width="1.4" stroke-linecap="butt"/>
<line x1="700.2" y1="672" x2="700.2" y2="806" stroke="#000" stroke-width="1.6" stroke-linecap="butt"/>
<line x1="683.2" y1="751" x2="683.2" y2="806" stroke="#000" stroke-width="1.2" stroke-linecap="butt"/>
<line x1="687.6" y1="751" x2="687.6" y2="808" stroke="#000" stroke-width="1.2" stroke-linecap="butt"/>
<line x1="697.4" y1="751" x2="697.4" y2="812" stroke="#000" stroke-width="1.4" stroke-linecap="butt"/>
<line x1="682.4" y1="758" x2="682.4" y2="800" stroke="#000" stroke-width="2" stroke-linecap="butt"/>
<rect x="676" y="671.4" width="24.6" height="15.6" fill="#222"/>
<rect x="681" y="675" width="8" height="8" fill="#bbb"/>
<rect x="690.6" y="677.4" width="7" height="7" fill="#777"/>
<line x1="674.6" y1="686.8" x2="690" y2="686.8" stroke="#000" stroke-width="2" stroke-linecap="butt"/>
<path d="M681,806 L684.6,806 L686,811 L694,811 L695.4,816.4 L697.8,820 L700.6,820" stroke="#000" stroke-width="1.4" fill="none" stroke-linejoin="miter" stroke-linecap="butt"/>
<line x1="584" y1="817.4" x2="678.8" y2="817.4" stroke="#000" stroke-width="1.8" stroke-linecap="butt"/>
<path d="M656.4,818.6 L656.4,831.4 M656.4,845.6 L656.4,888.8 L663.8,888.8 L663.8,851 L692.4,851" stroke="#000" stroke-width="1.6" fill="none" stroke-linejoin="miter" stroke-linecap="butt"/>
<line x1="678.8" y1="822" x2="678.8" y2="834" stroke="#000" stroke-width="1.4" stroke-linecap="butt" stroke-dasharray="5 3"/>
<path d="M650.2,864.6 L650.2,889.2 L614,889.2" stroke="#000" stroke-width="1.8" fill="none" stroke-linejoin="miter" stroke-linecap="butt"/>
<rect x="668.8" y="860.8" width="10.6" height="48" fill="#555" stroke="#000" stroke-width="3.8"/>
<path d="M672.6,865 Q675.4,884 673,904 M675.8,866 Q673.8,886 676,902" stroke="#ddd" stroke-width="0.9" fill="none" stroke-linejoin="miter" stroke-linecap="butt"/>
<path d="M645.6,841.2 L656.6,835.6 L656.6,842 Z" stroke="#000" stroke-width="0.6" fill="#000" stroke-linejoin="miter" stroke-linecap="butt"/>
<path d="M656.4,838.6 Q667,833.4 675,838 Q682,843 688,858 Q697,880 707.6,881.6 Q717,881.4 727,872.6" stroke="#000" stroke-width="1.2" fill="none" stroke-linejoin="miter" stroke-linecap="butt"/>
<polygon points="675.56,839.21 675.84,839.54 676.2,839.93 676.6,840.36 677.05,840.84 677.53,841.36 678.04,841.93 678.57,842.54 679.1,843.19 679.64,843.88 680.16,844.6 680.67,845.35 681.15,846.13 681.62,846.97 682.09,847.88 682.57,848.86 683.04,849.89 683.53,850.97 684.02,852.09 684.52,853.24 685.03,854.41 685.56,855.6 686.1,856.8 686.66,858.0 687.24,859.19 687.83,860.39 688.45,861.65 689.08,862.96 689.73,864.3 690.4,865.65 691.07,867.01 691.75,868.35 692.44,869.66 693.13,870.92 693.81,872.11 694.5,873.24 695.17,874.26 695.84,875.2 696.49,876.07 697.15,876.9 697.81,877.67 698.48,878.39 699.14,879.06 699.81,879.68 700.49,880.26 701.17,880.79 701.87,881.27 702.57,881.7 703.29,882.09 704.03,882.43 704.79,882.69 705.55,882.89 706.31,883.02 707.05,883.09 707.79,883.11 708.51,883.08 709.23,883.02 709.93,882.93 710.62,882.82 711.31,882.69 712.02,882.55 712.78,882.37 713.56,882.14 714.34,881.87 715.11,881.57 715.88,881.25 716.64,880.91 717.4,880.55 718.14,880.19 718.87,879.82 719.58,879.46 720.27,879.1 720.95,878.76 721.66,878.39 722.41,877.98 723.16,877.56 723.91,877.12 724.65,876.68 725.37,876.24 726.05,875.82 726.69,875.42 727.28,875.06 727.8,874.73 728.23,874.47 728.58,874.26 726.22,870.54 725.86,870.78 725.42,871.08 724.91,871.43 724.34,871.82 723.73,872.24 723.08,872.69 722.41,873.14 721.72,873.59 721.03,874.04 720.35,874.47 719.69,874.87 719.05,875.24 718.39,875.61 717.72,875.99 717.04,876.38 716.35,876.76 715.66,877.14 714.98,877.49 714.31,877.83 713.65,878.15 713.0,878.43 712.37,878.68 711.77,878.88 711.18,879.05 710.57,879.2 709.95,879.34 709.36,879.46 708.79,879.56 708.24,879.63 707.71,879.67 707.2,879.67 706.7,879.65 706.21,879.58 705.72,879.48 705.23,879.32 704.71,879.11 704.17,878.84 703.61,878.52 703.04,878.16 702.47,877.74 701.89,877.28 701.31,876.76 700.71,876.2 700.11,875.58 699.5,874.9 698.89,874.17 698.26,873.38 697.63,872.54 696.99,871.62 696.33,870.59 695.65,869.47 694.97,868.27 694.27,867.01 693.58,865.72 692.88,864.39 692.19,863.06 691.51,861.74 690.84,860.45 690.19,859.2 689.56,858.01 688.95,856.86 688.37,855.71 687.8,854.55 687.23,853.4 686.68,852.25 686.13,851.11 685.59,850.0 685.04,848.92 684.5,847.88 683.96,846.89 683.41,845.95 682.85,845.07 682.26,844.24 681.65,843.46 681.02,842.73 680.39,842.05 679.77,841.42 679.16,840.84 678.58,840.31 678.03,839.83 677.54,839.39 677.1,839.01 676.73,838.68 676.44,838.39" fill="#000" stroke="none" stroke-width="0"/>
<rect x="628.4" y="890" width="9" height="9" fill="#ccc" stroke="#111" stroke-width="1"/>
<line x1="626" y1="893" x2="640" y2="893" stroke="#000" stroke-width="1.2" stroke-linecap="butt"/>
<line x1="626" y1="896" x2="640" y2="896" stroke="#000" stroke-width="1.2" stroke-linecap="butt"/>
<rect x="618.6" y="898.6" width="26" height="6.4" fill="#222"/>
<rect x="622" y="900" width="2.6" height="3.8" fill="#eee"/>
<rect x="627.6" y="900" width="2.6" height="3.8" fill="#eee"/>
<rect x="633.2" y="900" width="2.6" height="3.8" fill="#eee"/>
<rect x="638.8" y="900" width="2.6" height="3.8" fill="#eee"/>
<rect x="614.6" y="904.8" width="31" height="3.4" fill="#999" stroke="#111" stroke-width="1"/>
<text transform="translate(739.4,884) scale(0.9855,1)" font-size="25" text-anchor="start" font-weight="normal" fill="#111">200 cm&#178;</text>
<path d="M847.2,863 L861.6,886.4 L832.8000000000001,886.4 Z" stroke="#bbb" stroke-width="3.6" fill="#fff" stroke-linejoin="round" stroke-linecap="butt"/>
<path d="M847.2,864.2 L860.0,885.6 L834.4000000000001,885.6 Z" stroke="#111" stroke-width="2" fill="#fff" stroke-linejoin="round" stroke-linecap="butt"/>
<path d="M845.6,870.956 L848.8000000000001,870.956 L848.1,879.38 L846.3000000000001,879.38 Z" stroke="#111" stroke-width="0.5" fill="#111" stroke-linejoin="miter" stroke-linecap="butt"/>
<circle cx="847.2" cy="882.188" r="1.7" fill="#111"/>
<text transform="translate(413.4,968) scale(0.9963,1)" font-size="20.6" text-anchor="start" font-weight="bold" fill="#111">UIK1510</text>
</svg>
</body></html>
